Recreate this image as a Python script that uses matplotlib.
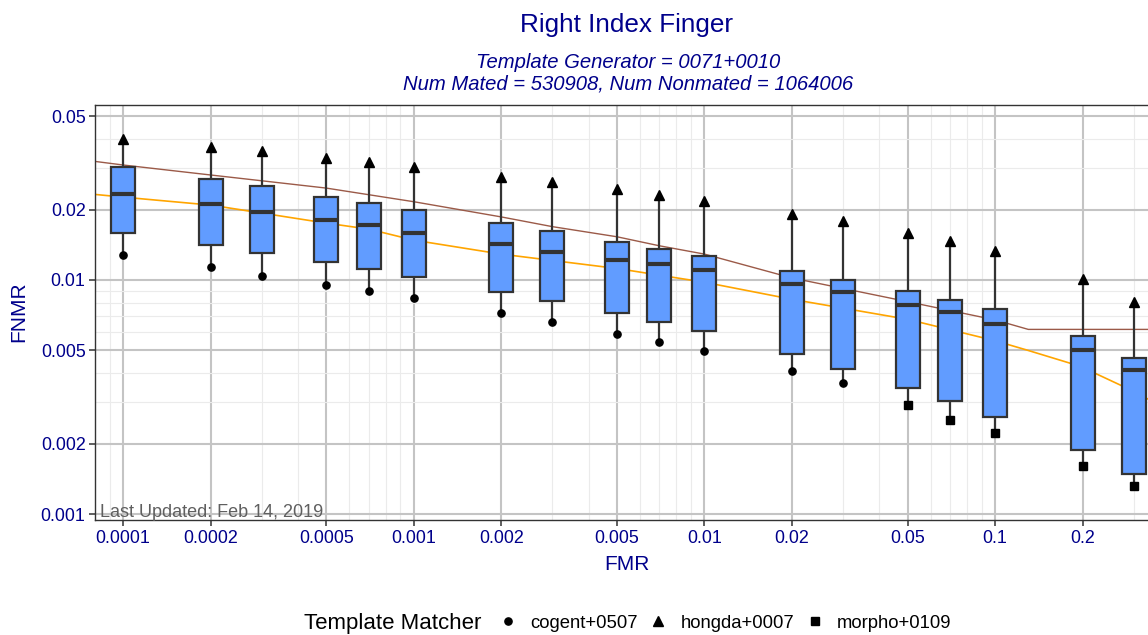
import matplotlib
matplotlib.use("Agg")
import matplotlib.pyplot as plt
import numpy as np
from matplotlib.lines import Line2D
from matplotlib.patches import Rectangle
from matplotlib.ticker import FixedLocator, LogLocator, NullFormatter

plt.rcParams["font.family"] = ["Liberation Sans", "DejaVu Sans"]

# FMR operating points (x) and the FNMR box summaries (y)
fmr = [0.0001, 0.0002, 0.0003, 0.0005, 0.0007, 0.001, 0.002, 0.003, 0.005,
       0.007, 0.01, 0.02, 0.03, 0.05, 0.07, 0.1, 0.2, 0.3]
fnmr_max = [0.0400, 0.0369, 0.0355, 0.0333, 0.0320, 0.0305, 0.0276, 0.0262, 0.0244,
            0.0231, 0.0218, 0.0191, 0.0178, 0.0159, 0.0147, 0.0133, 0.0101, 0.00805]
fnmr_q3 = [0.0303, 0.0270, 0.0252, 0.0227, 0.0213, 0.0199, 0.0175, 0.0162, 0.0145,
           0.0136, 0.0127, 0.0109, 0.0100, 0.00900, 0.00821, 0.00752, 0.00576, 0.00464]
fnmr_med = [0.0233, 0.0211, 0.0195, 0.0181, 0.0171, 0.0159, 0.0143, 0.0132, 0.0122,
            0.0117, 0.0110, 0.00958, 0.00891, 0.00784, 0.00728, 0.00650, 0.00502, 0.00413]
fnmr_q1 = [0.0159, 0.0141, 0.0131, 0.0119, 0.0111, 0.0103, 0.00889, 0.00813, 0.00725,
           0.00663, 0.00605, 0.00484, 0.00417, 0.00346, 0.00303, 0.00260, 0.00188, 0.00149]
fnmr_min = [0.0128, 0.0114, 0.0104, 0.00952, 0.00897, 0.00838, 0.00723, 0.00661, 0.00588,
            0.00543, 0.00497, 0.00408, 0.00363, 0.00293, 0.00253, 0.00223, 0.00161, 0.00132]
max_matcher = ["hongda+0007"] * 18
min_matcher = ["cogent+0507"] * 13 + ["morpho+0109"] * 5

# reference curves
brown_x = [0.0000803, 0.0001, 0.0002, 0.0005, 0.001, 0.002, 0.003, 0.005, 0.007,
           0.01, 0.02, 0.05, 0.1, 0.13, 0.37]
brown_y = [0.0321, 0.0310, 0.0281, 0.0247, 0.0216, 0.0186, 0.0169, 0.0153, 0.0140,
           0.0129, 0.0102, 0.00808, 0.00675, 0.00615, 0.00615]
orange_x = [0.0000803, 0.0001, 0.0002, 0.0005, 0.0007, 0.001, 0.002, 0.005, 0.01,
            0.02, 0.05, 0.1, 0.1285, 0.181, 0.221, 0.269, 0.332, 0.37]
orange_y = [0.0232, 0.0226, 0.0209, 0.0175, 0.0165, 0.0148, 0.0129, 0.0112, 0.00978,
            0.00827, 0.00679, 0.0055, 0.00502, 0.00441, 0.00399, 0.00356, 0.00312, 0.00291]

x_ticks = [0.0001, 0.0002, 0.0005, 0.001, 0.002, 0.005, 0.01, 0.02, 0.05, 0.1, 0.2]
x_labels = ["0.0001", "0.0002", "0.0005", "0.001", "0.002", "0.005", "0.01",
            "0.02", "0.05", "0.1", "0.2"]
y_ticks = [0.001, 0.002, 0.005, 0.01, 0.02, 0.05]
y_labels = ["0.001", "0.002", "0.005", "0.01", "0.02", "0.05"]

marker_of = {"cogent+0507": "o", "hongda+0007": "^", "morpho+0109": "s"}
size_of = {"cogent+0507": 5.2, "hongda+0007": 7.2, "morpho+0109": 5.3}

navy = "#00008B"
dark = "#333333"

W, H = 1148, 635
fig = plt.figure(figsize=(W / 100, H / 100), dpi=100)
ax = fig.add_axes([95.3 / W, 1 - 520 / H, (1159 - 95.3) / W, (520 - 104.7) / H])
ax.set_xscale("log")
ax.set_yscale("log")
ax.set_xlim(0.0000803, 0.366)
ax.set_ylim(0.000943, 0.0561)

# grid
ax.xaxis.set_major_locator(FixedLocator(x_ticks))
ax.yaxis.set_major_locator(FixedLocator(y_ticks))
ax.xaxis.set_minor_locator(LogLocator(base=10, subs=np.arange(1, 10)))
ax.yaxis.set_minor_locator(LogLocator(base=10, subs=np.arange(1, 10)))
ax.xaxis.set_minor_formatter(NullFormatter())
ax.yaxis.set_minor_formatter(NullFormatter())
ax.grid(which="minor", color="#EBEBEB", lw=0.8, zorder=0)
ax.grid(which="major", color="#C4C4C4", lw=1.5, zorder=0)
ax.set_axisbelow(True)
ax.set_xticklabels(x_labels)
ax.set_yticklabels(y_labels)
ax.tick_params(which="major", length=4, width=1.1, color=dark, labelcolor=navy,
               labelsize=12.9, pad=3)
ax.tick_params(which="minor", length=0)
for side in ["top", "left", "bottom"]:
    ax.spines[side].set_color(dark)
    ax.spines[side].set_linewidth(1)
ax.spines["right"].set_visible(False)

ax.plot(brown_x, brown_y, color="#9B5A48", lw=1.0, zorder=2)
ax.plot(orange_x, orange_y, color="#FFA500", lw=1.2, zorder=2)

# boxes: constant width in log space
k = 10 ** 0.0413
for i, x in enumerate(fmr):
    ax.vlines(x, fnmr_q3[i], fnmr_max[i], color=dark, lw=1.6, zorder=3)
    ax.vlines(x, fnmr_min[i], fnmr_q1[i], color=dark, lw=1.6, zorder=3)
    ax.add_patch(Rectangle((x / k, fnmr_q1[i]), x * k - x / k, fnmr_q3[i] - fnmr_q1[i],
                           facecolor="#619CFF", edgecolor=dark, lw=1.6, zorder=4))
    ax.hlines(fnmr_med[i], x / k, x * k, color=dark, lw=3, zorder=5)
    ax.plot(x, fnmr_max[i], marker=marker_of[max_matcher[i]], ms=size_of[max_matcher[i]],
            color="black", ls="", zorder=6)
    ax.plot(x, fnmr_min[i], marker=marker_of[min_matcher[i]], ms=size_of[min_matcher[i]],
            color="black", ls="", zorder=6)

ax.text(0.0045, 0.008, "Last Updated: Feb 14, 2019", transform=ax.transAxes,
        ha="left", va="baseline", fontsize=13, color="#5F5F5F", zorder=7)

# titles and labels
fig.text(626.7 / W, 1 - 25 / H, "Right Index Finger", ha="center", va="center",
         fontsize=18.8, color=navy)
fig.text(628 / W, 1 - 62 / H, "Template Generator = 0071+0010", ha="center", va="center",
         fontsize=14.6, color=navy, style="italic")
fig.text(628 / W, 1 - 84 / H, "Num Mated = 530908, Num Nonmated = 1064006", ha="center",
         va="center", fontsize=14.6, color=navy, style="italic")
fig.text(627 / W, 1 - 564 / H, "FMR", ha="center", va="center", fontsize=15, color=navy)
fig.text(19 / W, 1 - 312 / H, "FNMR", ha="center", va="center", fontsize=15, color=navy,
         rotation=90)

# legend
fig.text(304 / W, 1 - 623 / H, "Template Matcher", ha="left", va="center", fontsize=16)
labels = ["cogent+0507", "hongda+0007", "morpho+0109"]
handles = [Line2D([], [], marker=marker_of[m], ms=size_of[m], color="black", ls="")
           for m in labels]
fig.legend(handles, labels, ncol=3, loc="center left",
           bbox_to_anchor=(499 / W, 1 - 623 / H), frameon=False, handlelength=1.0,
           handletextpad=0.69, columnspacing=0.62, borderpad=0, borderaxespad=0,
           fontsize=13.3)

fig.savefig("out.png", dpi=100)
